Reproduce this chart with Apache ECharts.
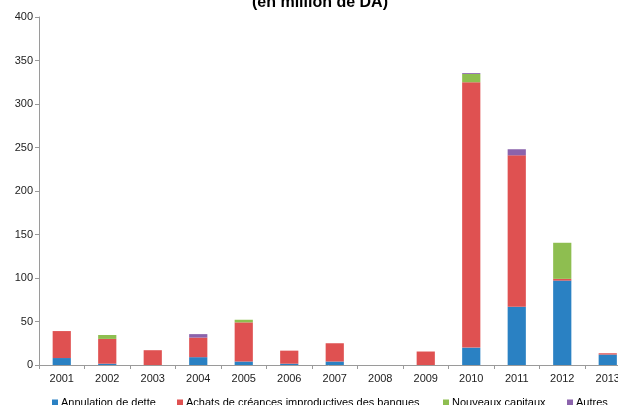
<!DOCTYPE html>
<html>
<head>
<meta charset="utf-8">
<script src="https://cdn.jsdelivr.net/npm/echarts@6/dist/echarts.min.js"></script>
<style>
  html, body { margin: 0; padding: 0; background: #fff; }
  #chart { width: 618px; height: 405px; }
</style>
</head>
<body>
<div id="chart"></div>
<script>
// Years on the category axis
const years = ['2001','2002','2003','2004','2005','2006','2007','2008','2009','2010','2011','2012','2013'];

// Stacked components, in million DA
const annulationDette = [8, 1.5, 0, 9, 4, 1.5, 4, 0, 0, 20, 67, 97, 12];
const achatsCreances  = [31, 28.5, 17, 22.5, 45, 15, 21, 0, 15.5, 305, 174, 2, 1.5];
const nouveauxCapitaux = [0, 4.5, 0, 0, 3, 0, 0, 0, 0, 9.5, 0, 41.5, 0];
const autres          = [0, 0, 0, 4, 0, 0, 0, 0, 0, 1, 7, 0, 0];

const seriesNames = [
  'Annulation de dette',
  'Achats de créances improductives des banques',
  'Nouveaux capitaux',
  'Autres'
];
const seriesColors = ['#2A81C3', '#DF5151', '#8EBE50', '#8B63AC'];
const seriesData = [annulationDette, achatsCreances, nouveauxCapitaux, autres];

// Left edge of each legend entry
const legendLefts = [52, 177, 443, 567];

const FONT = 'Liberation Sans, Arial, sans-serif';

const chart = echarts.init(document.getElementById('chart'));
chart.setOption({
  animation: false,
  backgroundColor: '#ffffff',
  title: {
    text: '(en million de DA)',
    left: 247,
    top: -10,
    textStyle: { fontFamily: FONT, fontSize: 16, fontWeight: 'bold', color: '#000' }
  },
  legend: seriesNames.map((name, i) => ({
    data: [name],
    left: legendLefts[i],
    top: 397,
    padding: 0,
    itemWidth: 6,
    itemHeight: 6,
    icon: 'rect',
    textStyle: { fontFamily: FONT, fontSize: 11, color: '#000', padding: [0, 0, 0, -2] }
  })),
  grid: { left: 39, width: 591.5, top: 17, bottom: 40, outerBoundsMode: 'none', containLabel: false },
  xAxis: {
    type: 'category',
    data: years,
    axisLine: { lineStyle: { color: '#9a9a9a' } },
    axisTick: { show: true, length: 4, lineStyle: { color: '#9a9a9a' } },
    axisLabel: { fontFamily: FONT, fontSize: 11, color: '#222', margin: 8 }
  },
  yAxis: {
    type: 'value',
    min: 0,
    max: 400,
    interval: 50,
    splitLine: { show: false },
    axisLine: { show: true, lineStyle: { color: '#9a9a9a' } },
    axisTick: { show: true, length: 4, lineStyle: { color: '#9a9a9a' } },
    axisLabel: { fontFamily: FONT, fontSize: 11, color: '#222', margin: 6 }
  },
  series: seriesNames.map((name, i) => ({
    name: name,
    type: 'bar',
    stack: 'total',
    barWidth: '40%',
    data: seriesData[i],
    itemStyle: { color: seriesColors[i] }
  }))
});
</script>
</body>
</html>
